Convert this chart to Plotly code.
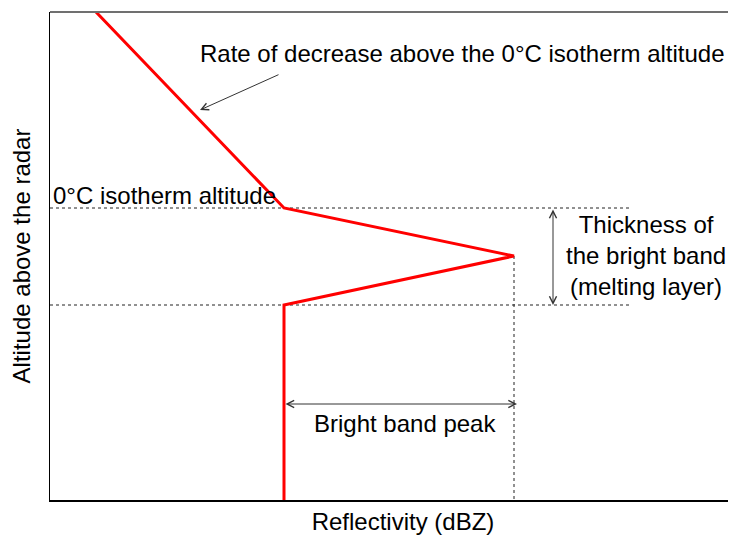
import plotly.graph_objects as go

# Reflectivity profile (arbitrary units, x = reflectivity, y = altitude)
profile_dbz = [46, 234, 464, 234, 234]
profile_alt = [488, 292, 244, 195, 0]

# Levels of the bright band
freezing_alt = 292
bb_bottom_alt = 195
bb_peak_dbz = 464
bb_peak_alt = 244
guide_end_dbz = 582

x_range = [0, 706]
y_range = [0, 488]

font_family = "Arial, Liberation Sans, sans-serif"
font_size = 24

fig = go.Figure()

# dotted guide lines
fig.add_trace(go.Scatter(
    x=[0, guide_end_dbz], y=[freezing_alt, freezing_alt],
    mode="lines", line=dict(color="#222222", width=1, dash="dot"),
    hoverinfo="skip", showlegend=False))
fig.add_trace(go.Scatter(
    x=[0, guide_end_dbz], y=[bb_bottom_alt, bb_bottom_alt],
    mode="lines", line=dict(color="#222222", width=1, dash="dot"),
    hoverinfo="skip", showlegend=False))
fig.add_trace(go.Scatter(
    x=[bb_peak_dbz, bb_peak_dbz], y=[bb_peak_alt, 0],
    mode="lines", line=dict(color="#222222", width=1, dash="dot"),
    hoverinfo="skip", showlegend=False))

# the profile itself
fig.add_trace(go.Scatter(
    x=profile_dbz, y=profile_alt,
    mode="lines", line=dict(color="#ff0000", width=3),
    hoverinfo="skip", showlegend=False))

txt = dict(family=font_family, size=font_size, color="black")

annotations = [
    # rate of decrease arrow + label
    dict(x=150, y=390, ax=230, ay=426, xref="x", yref="y", axref="x", ayref="y",
         text="", showarrow=True, arrowhead=5, arrowsize=1.4, arrowwidth=1,
         arrowcolor="#333333"),
    dict(x=412, y=447, xref="x", yref="y", text="Rate of decrease above the 0°C isotherm altitude",
         showarrow=False, font=txt),
    dict(x=1, y=305, xref="x", yref="y", xanchor="left",
         text="0°C isotherm altitude", showarrow=False, font=txt),
    # thickness of bright band
    dict(x=503, y=bb_bottom_alt, ax=503, ay=freezing_alt, xref="x", yref="y",
         axref="x", ayref="y", text="", showarrow=True, arrowhead=5,
         startarrowhead=5, arrowside="end+start", arrowsize=1.4,
         startarrowsize=1.4, arrowwidth=1, arrowcolor="#333333"),
    dict(x=596, y=245, xref="x", yref="y",
         text="Thickness of<br>the bright band<br>(melting layer)",
         showarrow=False, font=txt, align="center"),
    # bright band peak
    dict(x=bb_peak_dbz + 3, y=96, ax=234, ay=96, xref="x", yref="y",
         axref="x", ayref="y", text="", showarrow=True, arrowhead=5,
         startarrowhead=5, arrowside="end+start", arrowsize=1.4,
         startarrowsize=1.4, arrowwidth=1, arrowcolor="#333333"),
    dict(x=355, y=77, xref="x", yref="y", text="Bright band peak",
         showarrow=False, font=txt),
]

fig.update_layout(
    width=748, height=529,
    margin=dict(l=42, r=0, t=4, b=37),
    paper_bgcolor="white", plot_bgcolor="white",
    font=dict(family=font_family, size=font_size, color="black"),
    annotations=annotations,
    shapes=[dict(type="line", xref="paper", yref="paper", x0=0, x1=1, y0=1, y1=1,
                 line=dict(color="#707070", width=2))],
)
fig.update_xaxes(
    range=x_range, showgrid=False, zeroline=False, showticklabels=False,
    ticks="", showline=True, linecolor="black", linewidth=2,
    title=dict(text="Reflectivity (dBZ)", standoff=12, font=txt),
    automargin=False, fixedrange=True)
fig.update_yaxes(
    range=y_range, showgrid=False, zeroline=False, showticklabels=False,
    ticks="", showline=True, linecolor="black", linewidth=1,
    title=dict(text="Altitude above the radar", standoff=11, font=txt),
    automargin=False, fixedrange=True)

fig.write_html("out.html")
